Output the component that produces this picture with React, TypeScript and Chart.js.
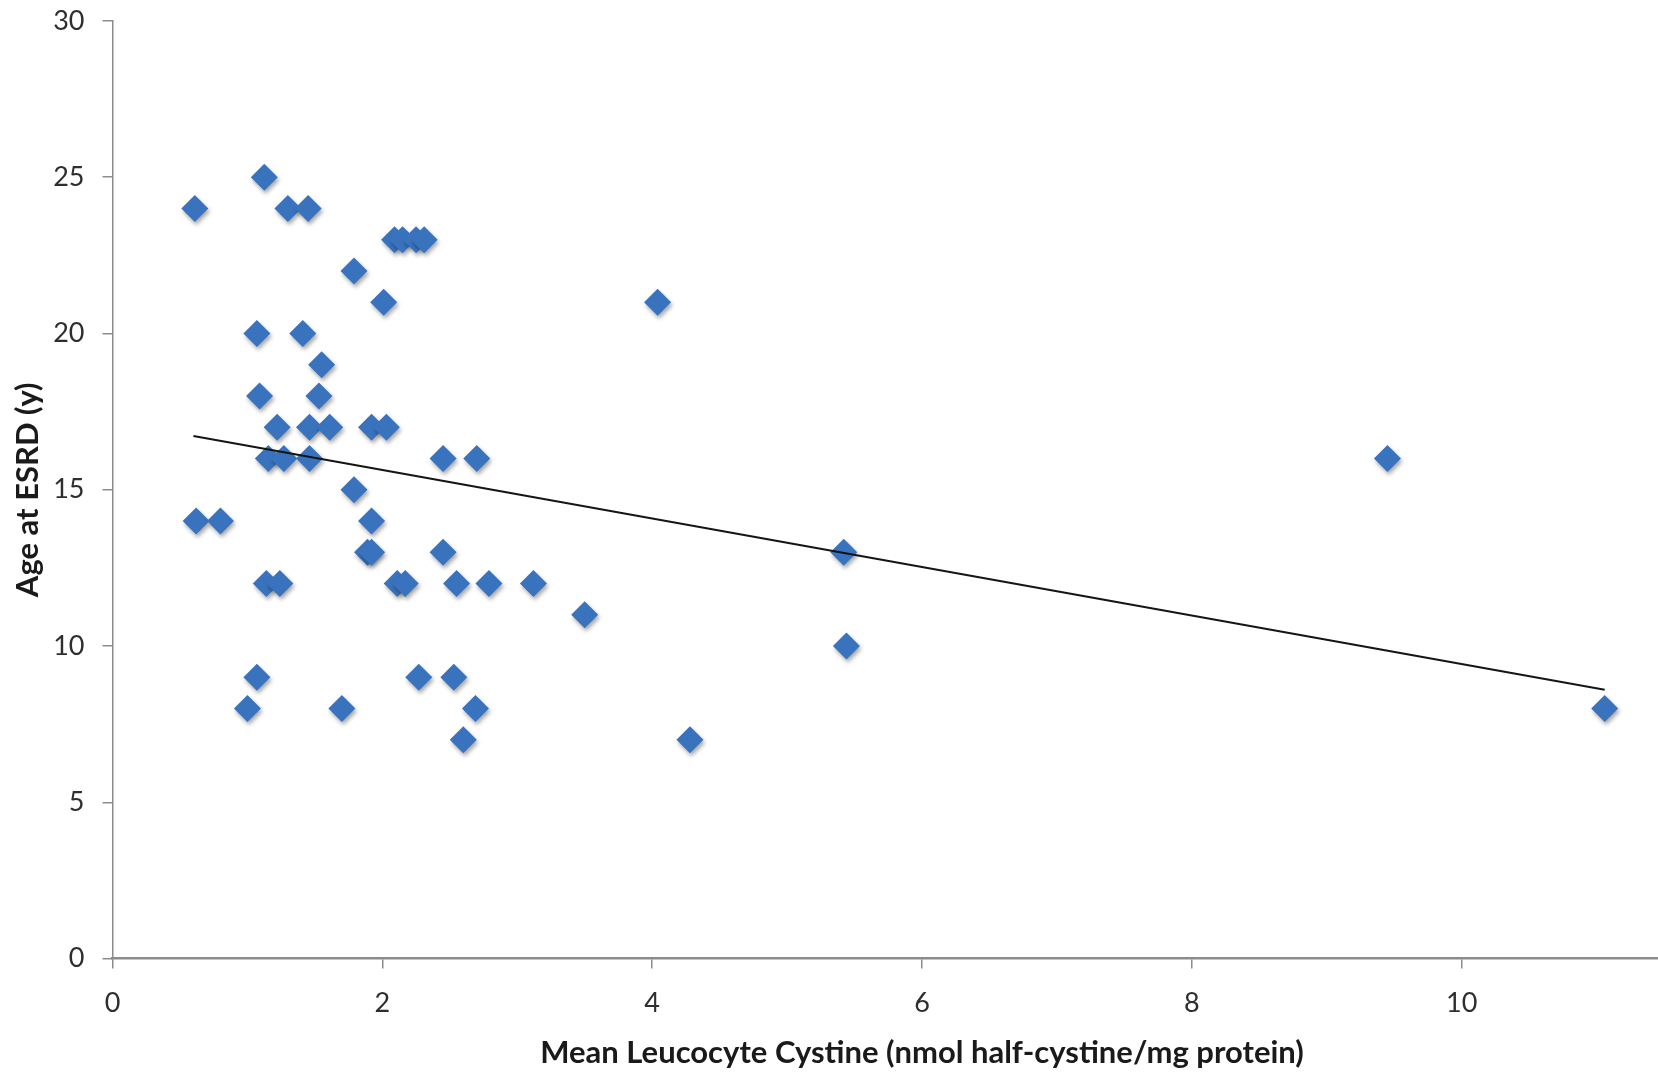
import React, { useEffect, useRef } from 'react';
import { Chart, registerables } from 'chart.js';

Chart.register(...registerables);

// Mean leucocyte cystine (nmol half-cystine/mg protein)
const cystine = [
  0.61, 1.125, 1.30, 1.45, 2.09, 2.15, 2.25, 2.31, 1.79, 2.01, 4.04, 1.07, 1.41, 1.55,
  1.09, 1.53, 1.22, 1.46, 1.61, 1.92, 2.03, 1.155, 1.27, 1.46, 2.45, 2.70, 9.45, 1.79,
  0.62, 0.80, 1.92, 1.89, 1.92, 2.45, 5.42, 1.14, 1.24, 2.11, 2.17, 2.55, 2.79, 3.12,
  3.50, 5.44, 1.07, 2.27, 2.53, 1.00, 1.70, 2.69, 11.06, 2.60, 4.28,
];
// Age at ESRD (years)
const ageAtESRD = [
  24, 25, 24, 24, 23, 23, 23, 23, 22, 21, 21, 20, 20, 19,
  18, 18, 17, 17, 17, 17, 17, 16, 16, 16, 16, 16, 16, 15,
  14, 14, 14, 13, 13, 13, 13, 12, 12, 12, 12, 12, 12, 12,
  11, 10, 9, 9, 9, 8, 8, 8, 8, 7, 7,
];
// Linear trendline end points
const trendX = [0.60, 11.06];
const trendY = [16.72, 8.6];

const xTicks = [0, 2, 4, 6, 8, 10, 12];
const yTicks = [0, 5, 10, 15, 20, 25, 30];

const xTitle = 'Mean Leucocyte Cystine (nmol half-cystine/mg protein)';
const yTitle = 'Age at ESRD (y)';

const FONT = 'Lato, "Open Sans", "DejaVu Sans", sans-serif';

const shadowPlugin = {
  id: 'markerShadow',
  beforeDatasetDraw(chart: any, args: any) {
    if (args.index === 1) {
      const ctx = chart.ctx;
      ctx.save();
      ctx.shadowColor = 'rgba(0,0,0,0.35)';
      ctx.shadowBlur = 4;
      ctx.shadowOffsetX = 1.5;
      ctx.shadowOffsetY = 3;
    }
  },
  afterDatasetDraw(chart: any, args: any) {
    if (args.index === 1) chart.ctx.restore();
  },
};

export default function App() {
  const ref = useRef<HTMLCanvasElement | null>(null);

  useEffect(() => {
    if (!ref.current) return;
    const points = cystine.map((x, i) => ({ x, y: ageAtESRD[i] }));
    const trend = trendX.map((x, i) => ({ x, y: trendY[i] }));
    const axisColor = '#8c8c8c';
    const chart = new Chart(ref.current, {
      type: 'scatter',
      data: {
        datasets: [
          {
            type: 'line',
            data: trend,
            borderColor: '#151515',
            borderWidth: 2.2,
            pointRadius: 0,
            fill: false,
          } as any,
          {
            type: 'scatter',
            data: points,
            pointStyle: 'rectRot',
            pointRadius: 13.5,
            backgroundColor: '#3A73BD',
            borderColor: '#3A73BD',
            borderWidth: 0,
          },
        ],
      },
      options: {
        animation: false,
        responsive: false,
        devicePixelRatio: 1,
        layout: { padding: { top: 21, right: 28.5, left: 0, bottom: 0 } },
        plugins: { legend: { display: false }, tooltip: { enabled: false } },
        scales: {
          x: {
            type: 'linear',
            min: 0,
            max: 12,
            afterBuildTicks: (s: any) => {
              s.ticks = xTicks.map((v) => ({ value: v }));
            },
            afterFit: (s: any) => {
              s.height = 113.5;
              s.paddingLeft = 0;
              s.paddingRight = 0;
            },
            ticks: {
              font: { family: FONT, size: 27 },
              color: '#2e2e2e',
              padding: 19,
              maxRotation: 0,
              autoSkip: false,
            },
            grid: {
              drawOnChartArea: false,
              tickLength: 10,
              color: axisColor,
              lineWidth: 1.5,
            },
            border: { display: true, color: axisColor, width: 2.5 },
            title: {
              display: true,
              text: xTitle,
              font: { family: FONT, size: 31, weight: 'bold' },
              color: '#1a1a1a',
              padding: { top: 0, bottom: 0 },
            },
          },
          y: {
            type: 'linear',
            min: 0,
            max: 30,
            afterBuildTicks: (s: any) => {
              s.ticks = yTicks.map((v) => ({ value: v }));
            },
            afterFit: (s: any) => {
              s.width = 112.5;
              s.paddingTop = 0;
              s.paddingBottom = 0;
            },
            ticks: {
              font: { family: FONT, size: 27 },
              color: '#2e2e2e',
              padding: 18,
            },
            grid: {
              drawOnChartArea: false,
              tickLength: 10,
              color: axisColor,
              lineWidth: 1.5,
            },
            border: { display: true, color: axisColor, width: 1.5 },
            title: {
              display: true,
              text: yTitle,
              font: { family: FONT, size: 31, weight: 'bold' },
              color: '#1a1a1a',
              padding: { top: 9, bottom: 0 },
            },
          },
        },
      },
      plugins: [shadowPlugin],
    });
    return () => chart.destroy();
  }, []);

  return (
    <div
      style={{
        position: 'fixed',
        left: 0,
        top: 0,
        width: 1658,
        height: 1072,
        overflow: 'hidden',
        background: '#ffffff',
      }}
    >
      <canvas ref={ref} width={1760} height={1072} style={{ width: 1760, height: 1072, display: 'block' }} />
    </div>
  );
}
